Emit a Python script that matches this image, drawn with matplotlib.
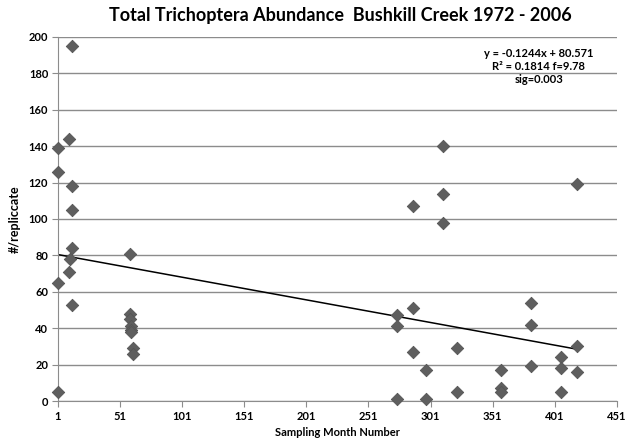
import matplotlib.pyplot as plt
import numpy as np

# dados
mes = [1, 1, 1, 1,
       10, 10, 11, 12, 12, 12, 12, 12,
       59, 59, 59, 60, 60, 60, 61, 61,
       274, 274, 274, 287, 287, 287, 297, 297,
       311, 311, 311, 322, 322,
       358, 358, 358, 382, 382, 382,
       406, 406, 406, 419, 419, 419]
abundancia = [139, 126, 65, 5,
              144, 71, 78, 195, 118, 105, 84, 53,
              81, 48, 45, 41, 39, 38, 29, 26,
              47, 41, 1, 107, 51, 27, 17, 1,
              140, 114, 98, 29, 5,
              17, 7, 5, 54, 42, 19,
              24, 18, 5, 119, 30, 16]

inclinacao = -0.1244
intercepto = 80.571
texto_reg = "y = -0.1244x + 80.571\nR² = 0.1814 f=9.78\nsig=0.003"

x_ticks = list(range(1, 452, 50))
y_ticks = list(range(0, 201, 20))

plt.rcParams['font.family'] = ['Lato', 'DejaVu Sans']

fig = plt.figure(figsize=(6.34, 4.4), dpi=100)
ax = fig.add_axes([0.0915, 0.0886, 0.8815, 0.8274])

ax.scatter(mes, abundancia, marker="D", s=40, c="#5f5f5f", edgecolors="#555555",
           linewidths=0.6, zorder=3, clip_on=False)

xs = np.array([min(mes), max(mes)])
ax.plot(xs, inclinacao * xs + intercepto, c="black", lw=1.1, zorder=2)

ax.set_xlim(1, 451)
ax.set_ylim(0, 200)
ax.set_xticks(x_ticks)
ax.set_yticks(y_ticks)
ax.grid(axis="y", color="#8c8c8c", lw=1)
ax.set_axisbelow(True)

for lado in ["top", "right"]:
    ax.spines[lado].set_visible(False)
for lado in ["left", "bottom"]:
    ax.spines[lado].set_color("#8c8c8c")
ax.tick_params(axis="both", direction="out", length=4, color="#8c8c8c",
               labelsize=8, pad=3)
for lab in ax.get_xticklabels() + ax.get_yticklabels():
    lab.set_fontweight("bold")

ax.set_xlabel("Sampling Month Number", fontsize=8, fontweight="bold", labelpad=4)
ax.set_ylabel("#/repliccate", fontsize=9, fontweight="bold", labelpad=6)
fig.suptitle("Total Trichoptera Abundance  Bushkill Creek 1972 - 2006",
             fontsize=13, fontweight="bold", x=0.537, y=0.985)

ax.text(0.86, 0.97, texto_reg, transform=ax.transAxes, ha="center", va="top",
        fontsize=8, fontweight="bold", linespacing=1.25)

fig.savefig("out.png", dpi=100)
